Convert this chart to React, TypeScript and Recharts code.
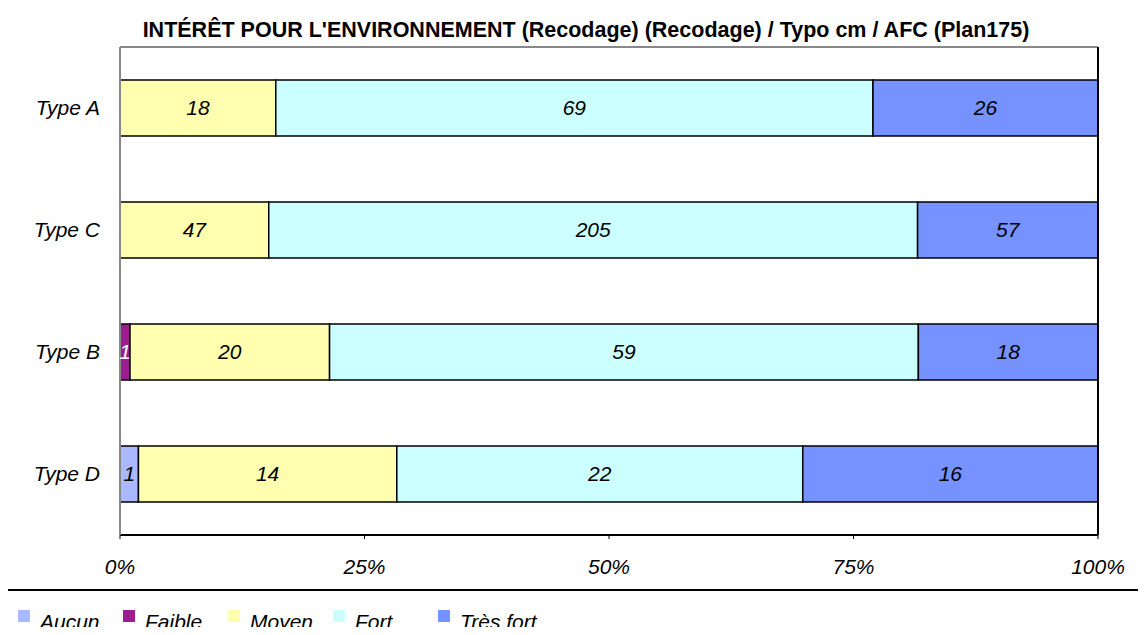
import { BarChart, Bar, XAxis, YAxis, LabelList } from "recharts";

const categories = ["Type A", "Type C", "Type B", "Type D"];
const aucun = [0, 0, 0, 1];
const faible = [0, 0, 1, 0];
const moyen = [18, 47, 20, 14];
const fort = [69, 205, 59, 22];
const tresFort = [26, 57, 18, 16];

const seriesNames = ["Aucun", "Faible", "Moyen", "Fort", "Très fort"];
const seriesColors = ["#A9B8FF", "#9C1C94", "#FFFFAF", "#CCFFFF", "#7592FF"];
const labelColors = ["#000", "#fff", "#000", "#000", "#000"];
const xTicks = [0, 0.25, 0.5, 0.75, 1];

const title =
  "INTÉRÊT POUR L'ENVIRONNEMENT (Recodage) (Recodage) / Typo cm / AFC (Plan175)";

const data = categories.map((type, i) => ({
  type,
  Aucun: aucun[i],
  Faible: faible[i],
  Moyen: moyen[i],
  Fort: fort[i],
  "Très fort": tresFort[i],
}));

const font = "'Liberation Sans', Arial, sans-serif";

export default function App() {
  return (
    <div style={{ position: "relative", width: 1138, height: 619, fontFamily: font }}>
      <div
        style={{
          position: "absolute",
          top: 9,
          left: 0,
          width: 1156,
          textAlign: "center",
          fontWeight: "bold",
          fontSize: 21.5,
          lineHeight: "26px",
          whiteSpace: "nowrap",
        }}
      >
        {title}
      </div>
      <BarChart
        width={1138}
        height={580}
        data={data}
        layout="vertical"
        stackOffset="expand"
        margin={{ top: 38, right: 47, bottom: 0, left: 0 }}
        style={{ fontFamily: font }}
      >
        <XAxis
          type="number"
          domain={[0, 1]}
          ticks={xTicks}
          tickFormatter={(v: number) => `${Math.round(v * 100)}%`}
          height={53}
          axisLine={{ stroke: "#000", strokeWidth: 2 }}
          tickLine={{ stroke: "#000" }}
          tickSize={4}
          tickMargin={20}
          tick={{ fill: "#000", fontSize: 21, fontStyle: "italic" }}
        />
        <XAxis
          xAxisId="top"
          orientation="top"
          type="number"
          domain={[0, 1]}
          height={1}
          tick={false}
          tickLine={false}
          axisLine={{ stroke: "#888", strokeWidth: 2 }}
        />
        <YAxis
          type="category"
          dataKey="type"
          width={112}
          axisLine={{ stroke: "#888", strokeWidth: 2 }}
          tickLine={false}
          tickSize={0}
          tickMargin={20}
          tick={{ fill: "#000", fontSize: 21, fontStyle: "italic" }}
        />
        <YAxis
          yAxisId="right"
          orientation="right"
          type="category"
          dataKey="type"
          width={1}
          tick={false}
          tickLine={false}
          axisLine={{ stroke: "#000", strokeWidth: 2 }}
        />
        {seriesNames.map((name, i) => (
          <Bar
            key={name}
            dataKey={name}
            stackId="a"
            fill={seriesColors[i]}
            stroke="#000"
            strokeWidth={1.5}
            barSize={56}
            isAnimationActive={false}
          >
            <LabelList
              dataKey={name}
              position="center"
              formatter={(v: any) => (v ? v : "")}
              style={{ fill: labelColors[i], fontSize: 21, fontStyle: "italic" }}
            />
          </Bar>
        ))}
      </BarChart>
      <div
        style={{
          position: "absolute",
          top: 581,
          left: 0,
          width: 1138,
          borderTop: "2px solid #000",
        }}
      />
      <div
        style={{
          position: "absolute",
          top: 602,
          left: 10,
          display: "flex",
          fontSize: 21,
          fontStyle: "italic",
          whiteSpace: "nowrap",
        }}
      >
        {seriesNames.map((name, i) => (
          <div key={name} style={{ width: 105, display: "flex", alignItems: "flex-start" }}>
            <span
              style={{
                display: "inline-block",
                flex: "none",
                width: 12,
                height: 12,
                background: seriesColors[i],
                marginRight: 10,
              }}
            />
            <span style={{ lineHeight: "24px", marginTop: 0 }}>{name}</span>
          </div>
        ))}
      </div>
    </div>
  );
}
